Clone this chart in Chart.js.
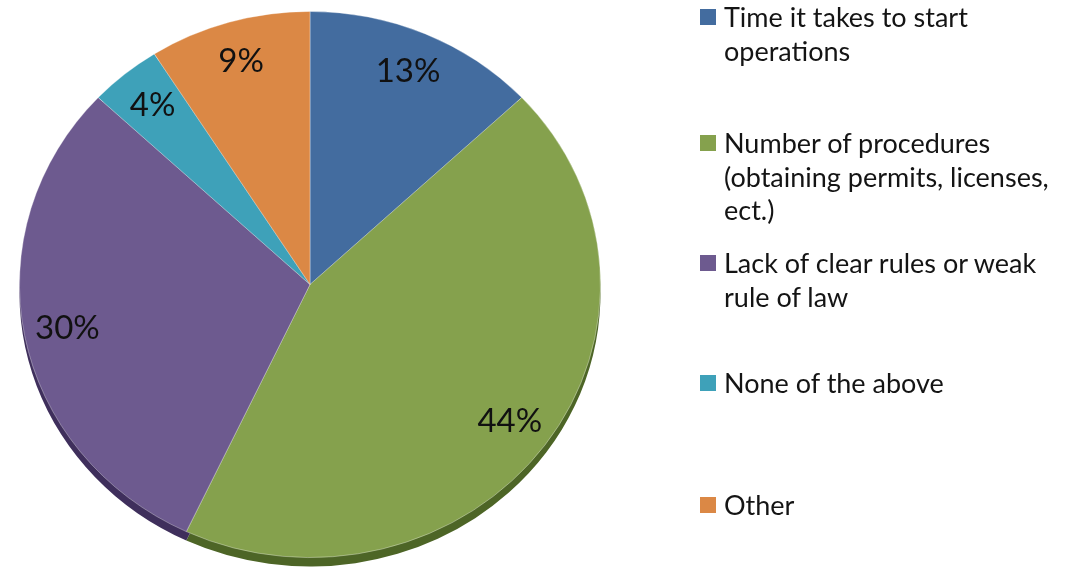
<!DOCTYPE html>
<html>
<head>
<meta charset="utf-8">
<script src="https://cdn.jsdelivr.net/npm/chart.js@4/dist/chart.umd.min.js"></script>
<style>
  html, body { margin: 0; padding: 0; background: #ffffff; }
  #wrap { position: relative; width: 1076px; height: 582px; overflow: hidden; background: #fff; }
  #chartBox { position: absolute; left: 0; top: 0; width: 620px; height: 582px; }
  #legend { position: absolute; left: 0; top: 0; width: 1076px; height: 582px; pointer-events: none;
            font-family: Lato, "Open Sans", sans-serif; font-size: 27px; color: #141414; }
  .item { position: absolute; left: 700px; }
  .sw { position: absolute; left: 0; top: 9px; width: 16px; height: 16px; }
  .txt { position: absolute; left: 24px; top: 0; line-height: 33.5px; white-space: nowrap; }
</style>
</head>
<body>
<div id="wrap">
  <div id="chartBox"><canvas id="c" width="620" height="582"></canvas></div>
  <div id="legend"></div>
</div>
<script>
const categories = [
  "Time it takes to start operations",
  "Number of procedures (obtaining permits, licenses, ect.)",
  "Lack of clear rules or weak rule of law",
  "None of the above",
  "Other"
];
const legendLines = [
  ["Time it takes to start", "operations"],
  ["Number of procedures", "(obtaining permits, licenses,", "ect.)"],
  ["Lack of clear rules or weak", "rule of law"],
  ["None of the above"],
  ["Other"]
];
const values = [13, 44, 30, 4, 9];
const percentLabels = ["13%", "44%", "30%", "4%", "9%"];
const colors = ["#436c9f", "#85a14d", "#6d5a8f", "#3ea1b9", "#db8845"];
const rimColors = ["#2c4a70", "#4d6526", "#3f2f5c", "#226a7c", "#9a5a24"];
const legendTops = [0, 126, 246, 366, 488];

// ellipse (tilted pie) parameters
const SCALE_Y = 0.94, CENTER_Y = 284.5, RIM = 9;

function applyTilt(ctx, chart) {
  const a = chart.chartArea;
  const cx = (a.left + a.right) / 2, cy = (a.top + a.bottom) / 2;
  ctx.translate(cx, CENTER_Y);
  ctx.scale(1, SCALE_Y);
  ctx.translate(-cx, -cy);
}

const tiltPlugin = {
  id: 'tilt',
  beforeDatasetsDraw(chart) {
    const ctx = chart.ctx;
    ctx.save();
    applyTilt(ctx, chart);
    const meta = chart.getDatasetMeta(0);
    meta.data.forEach((arc, i) => {
      const p = arc.getProps(['x', 'y', 'startAngle', 'endAngle', 'outerRadius'], true);
      ctx.beginPath();
      ctx.moveTo(p.x, p.y + RIM / SCALE_Y);
      ctx.arc(p.x, p.y + RIM / SCALE_Y, p.outerRadius, p.startAngle, p.endAngle);
      ctx.closePath();
      ctx.fillStyle = rimColors[i];
      ctx.fill();
    });
  },
  afterDatasetsDraw(chart) {
    const ctx = chart.ctx;
    ctx.restore();
    const meta = chart.getDatasetMeta(0);
    const a = chart.chartArea;
    const cy = (a.top + a.bottom) / 2;
    ctx.save();
    ctx.font = '33px Lato, "Open Sans", sans-serif';
    ctx.fillStyle = '#111';
    ctx.textAlign = 'center';
    ctx.textBaseline = 'middle';
    meta.data.forEach((arc, i) => {
      const p = arc.getProps(['x', 'y', 'startAngle', 'endAngle', 'outerRadius'], true);
      const mid = (p.startAngle + p.endAngle) / 2;
      const r = p.outerRadius * 0.85;
      const x = p.x + Math.cos(mid) * r;
      const y = CENTER_Y + (p.y + Math.sin(mid) * r - cy) * SCALE_Y;
      ctx.fillText(percentLabels[i], x, y);
    });
    ctx.restore();
  }
};

new Chart(document.getElementById('c'), {
  type: 'pie',
  data: {
    labels: categories,
    datasets: [{
      data: values,
      backgroundColor: colors,
      borderColor: 'rgba(255,255,255,0.35)',
      borderWidth: 1
    }]
  },
  options: {
    responsive: false,
    animation: false,
    layout: { padding: 0 },
    plugins: {
      legend: { display: false },
      tooltip: { enabled: false }
    }
  },
  plugins: [tiltPlugin]
});

// legend built from the same arrays
const lg = document.getElementById('legend');
legendLines.forEach((lines, i) => {
  const it = document.createElement('div');
  it.className = 'item';
  it.style.top = legendTops[i] + 'px';
  const sw = document.createElement('div');
  sw.className = 'sw';
  sw.style.background = colors[i];
  const tx = document.createElement('div');
  tx.className = 'txt';
  tx.innerHTML = lines.map(s => s.replace(/&/g, '&amp;').replace(/</g, '&lt;')).join('<br>');
  it.appendChild(sw);
  it.appendChild(tx);
  lg.appendChild(it);
});
</script>
</body>
</html>
